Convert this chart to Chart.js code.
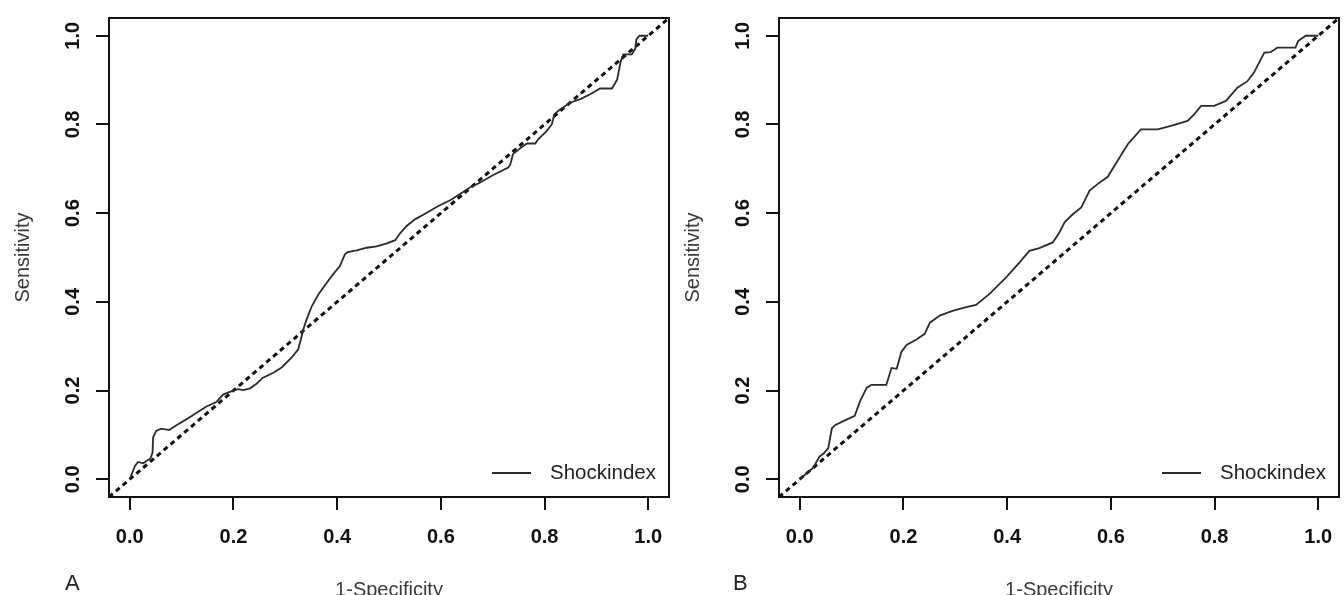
<!DOCTYPE html>
<html>
<head>
<meta charset="utf-8">
<script src="https://cdn.jsdelivr.net/npm/chart.js@4.4.0/dist/chart.umd.min.js"></script>
<style>
  body { margin: 0; background: #fff; width: 1344px; height: 595px; overflow: hidden; position: relative; font-family: "Liberation Sans", Arial, sans-serif; }
  canvas { position: absolute; top: 0; }
  #grafica-a { left: 0; }
  #grafica-b { left: 670px; }
  .letra-panel { position: absolute; font-size: 22px; line-height: 1; color: #222; }
</style>
</head>
<body>
<canvas id="grafica-a" width="672" height="595"></canvas>
<canvas id="grafica-b" width="672" height="595"></canvas>
<div class="letra-panel" style="left:65px;top:572px">A</div>
<div class="letra-panel" style="left:733px;top:572px">B</div>

<script>
// valores (1-especificidad, sensibilidad)
const fprA = [0, 0.010, 0.016, 0.026, 0.032, 0.040, 0.044, 0.045, 0.051, 0.061, 0.076, 0.090, 0.109, 0.129, 0.148, 0.167,
  0.180, 0.193, 0.209, 0.219, 0.232, 0.245, 0.257, 0.277, 0.293, 0.312, 0.325, 0.330, 0.335, 0.341, 0.351, 0.364,
  0.380, 0.392, 0.405, 0.415, 0.420, 0.438, 0.457, 0.476, 0.496, 0.512, 0.521, 0.534, 0.550, 0.573, 0.595, 0.618,
  0.637, 0.656, 0.676, 0.701, 0.730, 0.734, 0.739, 0.753, 0.766, 0.782, 0.788, 0.804, 0.814, 0.819, 0.830, 0.849,
  0.869, 0.888, 0.907, 0.930, 0.940, 0.947, 0.952, 0.968, 0.975, 0.977, 0.983, 1];
const tprA = [0, 0.030, 0.039, 0.036, 0.041, 0.047, 0.060, 0.094, 0.109, 0.114, 0.111, 0.122, 0.135, 0.150, 0.164, 0.174,
  0.191, 0.197, 0.203, 0.201, 0.205, 0.216, 0.229, 0.240, 0.252, 0.274, 0.293, 0.315, 0.339, 0.360, 0.390, 0.417,
  0.443, 0.462, 0.480, 0.507, 0.512, 0.516, 0.522, 0.525, 0.532, 0.539, 0.554, 0.571, 0.586, 0.601, 0.616, 0.629,
  0.643, 0.658, 0.669, 0.686, 0.703, 0.710, 0.733, 0.746, 0.757, 0.757, 0.767, 0.785, 0.800, 0.823, 0.834, 0.849,
  0.857, 0.868, 0.881, 0.881, 0.901, 0.943, 0.958, 0.958, 0.971, 0.992, 1.000, 1];

const fprB = [0, 0.013, 0.026, 0.038, 0.046, 0.055, 0.062, 0.068, 0.084, 0.106, 0.116, 0.129, 0.138, 0.167, 0.177, 0.187,
  0.196, 0.206, 0.225, 0.241, 0.251, 0.270, 0.296, 0.321, 0.340, 0.366, 0.398, 0.424, 0.443, 0.462, 0.488, 0.501,
  0.511, 0.527, 0.543, 0.559, 0.575, 0.594, 0.613, 0.633, 0.658, 0.690, 0.716, 0.748, 0.761, 0.774, 0.799, 0.822,
  0.844, 0.863, 0.876, 0.896, 0.908, 0.921, 0.956, 0.961, 0.976, 1];
const tprB = [0, 0.013, 0.026, 0.051, 0.058, 0.070, 0.115, 0.122, 0.131, 0.143, 0.175, 0.206, 0.213, 0.213, 0.251, 0.249,
  0.287, 0.303, 0.315, 0.328, 0.353, 0.369, 0.380, 0.388, 0.393, 0.418, 0.455, 0.489, 0.515, 0.521, 0.534, 0.557,
  0.580, 0.598, 0.613, 0.651, 0.666, 0.682, 0.718, 0.756, 0.789, 0.789, 0.797, 0.808, 0.823, 0.842, 0.842, 0.853,
  0.883, 0.897, 0.917, 0.962, 0.963, 0.973, 0.973, 0.988, 1.000, 1];

// linea de referencia y = x (de esquina a esquina del marco)
const diagonal = [-0.04, 1.04];

const valoresTicks = [0, 0.2, 0.4, 0.6, 0.8, 1.0];
const etiquetasTicks = ['0.0', '0.2', '0.4', '0.6', '0.8', '1.0'];
const etiquetaLeyenda = 'Shockindex';
const tituloX = '1-Specificity';
const tituloY = 'Sensitivity';

// marco completo y leyenda dentro del area
const marcoYLeyenda = {
  id: 'marcoYLeyenda',
  afterDatasetsDraw(chart) {
    const {ctx, chartArea: a} = chart;
    const ds = chart.data.datasets[0];
    ctx.save();
    ctx.strokeStyle = '#111';
    ctx.lineWidth = 2;
    ctx.strokeRect(a.left, a.top, a.right - a.left, a.bottom - a.top);

    const y = a.bottom - 24;
    ctx.strokeStyle = ds.borderColor;
    ctx.lineWidth = 2;
    ctx.beginPath();
    ctx.moveTo(a.right - 177, y);
    ctx.lineTo(a.right - 138, y);
    ctx.stroke();
    ctx.fillStyle = '#222';
    ctx.font = '20.5px "Liberation Sans"';
    ctx.textBaseline = 'middle';
    ctx.fillText(ds.label, a.right - 119, y);
    ctx.restore();
  }
};

const escala = (titulo, esX) => ({
  type: 'linear',
  min: -0.04,
  max: 1.04,
  afterBuildTicks: s => { s.ticks = valoresTicks.map(v => ({value: v})); },
  afterFit: s => {
    // sin relleno extra por las etiquetas de los extremos
    s.paddingLeft = s.paddingRight = s.paddingTop = s.paddingBottom = 0;
    if (esX) s.height = 98; else s.width = 109;
  },
  border: {display: false},
  grid: {drawOnChartArea: false, drawTicks: true, tickLength: 13, lineWidth: 2, color: '#111'},
  ticks: Object.assign({
    autoSkip: false,
    color: '#111',
    font: {family: 'Liberation Sans', size: 20, weight: 'bold'},
    padding: esX ? 15 : 9,
    callback: (v, i) => etiquetasTicks[i]
  }, esX ? {maxRotation: 0} : {minRotation: 90, maxRotation: 90, crossAlign: 'center'}),
  title: {
    display: true,
    text: titulo,
    color: '#3a3a3a',
    font: {family: 'Liberation Sans', size: 20},
    padding: esX ? {top: 0, bottom: -7} : {top: 11, bottom: 0}
  }
});

const dibujarCurva = (idCanvas, fpr, tpr) => {
  const puntos = fpr.map((x, i) => ({x: x, y: tpr[i]}));
  const ref = diagonal.map(v => ({x: v, y: v}));

  new Chart(document.getElementById(idCanvas), {
    type: 'scatter',
    data: {
      datasets: [
        {label: etiquetaLeyenda, data: puntos, showLine: true, borderColor: '#2b2b2b', borderWidth: 1.8,
          pointRadius: 0, tension: 0},
        {label: 'referencia', data: ref, showLine: true, borderColor: '#111', borderWidth: 3,
          borderDash: [5, 4], pointRadius: 0}
      ]
    },
    options: {
      responsive: false,
      animation: false,
      devicePixelRatio: 1,
      events: [],
      layout: {padding: {left: 0, right: 3, top: 18, bottom: 0}},
      plugins: {legend: {display: false}, tooltip: {enabled: false}},
      scales: {
        x: escala(tituloX, true),
        y: escala(tituloY, false)
      }
    },
    plugins: [marcoYLeyenda]
  });
};

dibujarCurva('grafica-a', fprA, tprA);
dibujarCurva('grafica-b', fprB, tprB);
</script>
</body>
</html>
